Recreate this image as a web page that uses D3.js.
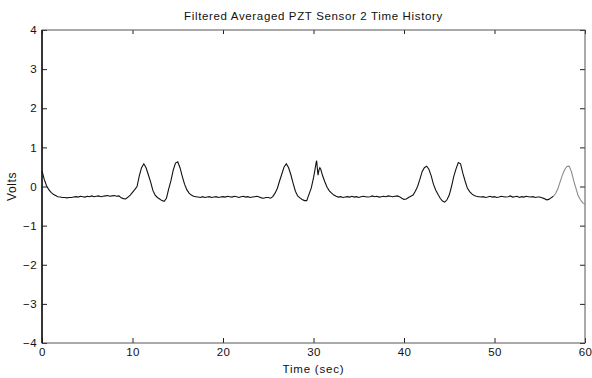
<!DOCTYPE html>
<html>
<head>
<meta charset="utf-8">
<script src="https://cdn.jsdelivr.net/npm/d3@7"></script>
<style>
  body { margin: 0; background: #fff; }
  text { font-family: "Liberation Sans", Arial, sans-serif; fill: #111; }
</style>
</head>
<body>
<div id="chart"></div>
<script>
// values (seconds, volts)
const timeSec = [
  0, 0.25, 0.5, 0.75, 1, 1.25, 1.5, 1.75, 2, 2.25, 2.5, 2.75, 3, 3.25, 3.5, 3.75, 4, 4.25, 4.5, 4.75,
  5, 5.25, 5.5, 5.75, 6, 6.25, 6.5, 6.75, 7, 7.25, 7.5, 7.75, 8, 8.25, 8.5, 8.75, 9, 9.25, 9.5, 9.75,
  10, 10.25, 10.5, 10.75, 11, 11.25, 11.5, 11.75, 12, 12.25, 12.5, 12.75, 13, 13.25, 13.5, 13.75, 14, 14.25, 14.5, 14.75,
  15, 15.25, 15.5, 15.75, 16, 16.25, 16.5, 16.75, 17, 17.25, 17.5, 17.75, 18, 18.25, 18.5, 18.75, 19, 19.25, 19.5, 19.75,
  20, 20.25, 20.5, 20.75, 21, 21.25, 21.5, 21.75, 22, 22.25, 22.5, 22.75, 23, 23.25, 23.5, 23.75, 24, 24.25, 24.5, 24.75,
  25, 25.25, 25.5, 25.75, 26, 26.25, 26.5, 26.75, 27, 27.25, 27.5, 27.75, 28, 28.25, 28.5, 28.75, 29, 29.25, 29.5, 29.75,
  30, 30.1, 30.2, 30.3, 30.35, 30.45, 30.5, 30.6, 30.7, 30.8, 30.9,
  31, 31.25, 31.5, 31.75, 32, 32.25, 32.5, 32.75,
  33, 33.25, 33.5, 33.75, 34, 34.25, 34.5, 34.75, 35, 35.25, 35.5, 35.75, 36, 36.25, 36.5, 36.75,
  37, 37.25, 37.5, 37.75, 38, 38.25, 38.5, 38.75, 39, 39.25, 39.5, 39.75,
  40, 40.25, 40.5, 40.75, 41, 41.25, 41.5, 41.75, 42, 42.25, 42.5, 42.75, 43, 43.25, 43.5, 43.75, 44, 44.25, 44.5, 44.75,
  45, 45.25, 45.5, 45.75, 46, 46.25, 46.5, 46.75, 47, 47.25, 47.5, 47.75, 48, 48.25, 48.5, 48.75, 49, 49.25, 49.5, 49.75,
  50, 50.25, 50.5, 50.75, 51, 51.25, 51.5, 51.75, 52, 52.25, 52.5, 52.75, 53, 53.25, 53.5, 53.75, 54, 54.25, 54.5, 54.75,
  55, 55.25, 55.5, 55.75, 56, 56.25, 56.5, 56.75, 57, 57.25, 57.5, 57.75, 58, 58.25, 58.5, 58.75, 59, 59.25, 59.5, 59.75, 60
];
const volts = [
  0.40, 0.18, 0.02, -0.08, -0.15, -0.20, -0.23, -0.26, -0.27, -0.28, -0.28, -0.29, -0.28, -0.28, -0.27, -0.26, -0.27, -0.25, -0.26, -0.27,
  -0.25, -0.26, -0.24, -0.26, -0.25, -0.24, -0.26, -0.25, -0.24, -0.23, -0.25, -0.24, -0.23, -0.25, -0.24, -0.29, -0.31, -0.32, -0.27, -0.22,
  -0.15, -0.08, 0.00, 0.27, 0.48, 0.58, 0.48, 0.30, 0.12, -0.10, -0.22, -0.28, -0.32, -0.36, -0.38, -0.30, -0.06, 0.15, 0.42, 0.60,
  0.63, 0.48, 0.26, 0.06, -0.08, -0.17, -0.22, -0.25, -0.26, -0.27, -0.28, -0.26, -0.28, -0.27, -0.26, -0.28, -0.27, -0.26, -0.28, -0.27,
  -0.26, -0.27, -0.25, -0.26, -0.27, -0.25, -0.26, -0.28, -0.26, -0.25, -0.27, -0.26, -0.28, -0.27, -0.26, -0.25, -0.27, -0.29, -0.30, -0.28,
  -0.28, -0.30, -0.26, -0.17, -0.05, 0.14, 0.32, 0.50, 0.58, 0.48, 0.30, 0.08, -0.12, -0.24, -0.29, -0.33, -0.36, -0.36, -0.20, -0.04,
  0.22, 0.35, 0.48, 0.62, 0.66, 0.40, 0.29, 0.42, 0.48, 0.44, 0.36,
  0.28, 0.12, -0.02, -0.11, -0.17, -0.22, -0.25, -0.27,
  -0.26, -0.28, -0.27, -0.26, -0.27, -0.25, -0.27, -0.26, -0.28, -0.26, -0.25, -0.26, -0.27, -0.26, -0.24, -0.26,
  -0.25, -0.27, -0.26, -0.25, -0.26, -0.24, -0.25, -0.26, -0.25, -0.24, -0.26, -0.30,
  -0.33, -0.32, -0.28, -0.25, -0.22, -0.12, 0.00, 0.18, 0.38, 0.48, 0.52, 0.44, 0.28, 0.06, -0.09, -0.20, -0.30, -0.37, -0.40, -0.34,
  -0.22, 0.00, 0.26, 0.45, 0.61, 0.58, 0.34, 0.14, -0.04, -0.13, -0.19, -0.23, -0.25, -0.26, -0.27, -0.26, -0.28, -0.27, -0.25, -0.27,
  -0.26, -0.28, -0.27, -0.25, -0.26, -0.27, -0.26, -0.24, -0.27, -0.26, -0.25, -0.28, -0.26, -0.27, -0.25, -0.26, -0.27, -0.26, -0.28, -0.27,
  -0.27, -0.29, -0.31, -0.34, -0.33, -0.29, -0.25, -0.18, -0.06, 0.12, 0.29, 0.43, 0.51, 0.52, 0.38, 0.15, -0.05, -0.24, -0.34, -0.42, -0.45
];
const xTicks = [0, 10, 20, 30, 40, 50, 60];
const yTicks = [-4, -3, -2, -1, 0, 1, 2, 3, 4];
const fadeFrom = 56.5; // last peak is printed lighter in the scan

const margin = { top: 30, right: 7, bottom: 35, left: 42 };
const width = 592 - margin.left - margin.right;
const height = 378 - margin.top - margin.bottom;

const svg = d3.select('#chart')
  .append('svg')
  .attr('width', 592)
  .attr('height', 378);

const g = svg.append('g')
  .attr('transform', `translate(${margin.left},${margin.top})`);

const x = d3.scaleLinear().domain([0, 60]).range([0, width]);
const y = d3.scaleLinear().domain([-4, 4]).range([height, 0]);

const points = timeSec.map((t, i) => ({ t, v: volts[i] }));

// ticks point inward on all four sides, like the matlab box
const styleAxis = sel => {
  sel.select('.domain').remove();
  sel.selectAll('line').attr('stroke', '#222');
  sel.selectAll('text').style('font-size', '11.5px').style('letter-spacing', '0.4px');
};

g.append('g')
  .attr('transform', `translate(0,${height})`)
  .call(d3.axisBottom(x).tickValues(xTicks).tickSizeInner(-5).tickSizeOuter(0).tickPadding(5))
  .call(styleAxis);

g.append('g')
  .call(d3.axisTop(x).tickValues(xTicks).tickSizeInner(-4).tickSizeOuter(0).tickFormat(''))
  .call(styleAxis);

g.append('g')
  .call(d3.axisLeft(y).tickValues(yTicks).tickSizeInner(-5).tickSizeOuter(0).tickPadding(5))
  .call(styleAxis);

g.append('g')
  .attr('transform', `translate(${width},0)`)
  .call(d3.axisRight(y).tickValues(yTicks).tickSizeInner(-5).tickSizeOuter(0).tickFormat(''))
  .call(styleAxis);

// frame
g.append('rect')
  .attr('width', width)
  .attr('height', height)
  .attr('fill', 'none')
  .attr('stroke', '#555')
  .attr('stroke-width', 1);

g.append('line')
  .attr('x1', 0).attr('x2', 0)
  .attr('y1', 0).attr('y2', height)
  .attr('stroke', '#111')
  .attr('stroke-width', 1.5);

const line = d3.line()
  .x(d => x(d.t))
  .y(d => y(d.v));

g.append('path')
  .datum(points.filter(d => d.t <= fadeFrom))
  .attr('fill', 'none')
  .attr('stroke', '#111')
  .attr('stroke-width', 1.1)
  .attr('d', line);

g.append('path')
  .datum(points.filter(d => d.t >= fadeFrom))
  .attr('fill', 'none')
  .attr('stroke', '#8a8a8a')
  .attr('stroke-width', 1.1)
  .attr('d', line);

// title and axis labels
g.append('text')
  .attr('x', width / 2)
  .attr('y', -10)
  .attr('text-anchor', 'middle')
  .style('font-size', '11.5px')
  .style('letter-spacing', '0.65px')
  .text('Filtered Averaged PZT Sensor 2 Time History');

g.append('text')
  .attr('x', width / 2)
  .attr('y', height + 30)
  .attr('text-anchor', 'middle')
  .style('font-size', '11.5px')
  .style('letter-spacing', '0.8px')
  .text('Time (sec)');

g.append('text')
  .attr('transform', `translate(-26,${height / 2}) rotate(-90)`)
  .attr('text-anchor', 'middle')
  .style('font-size', '12px')
  .style('letter-spacing', '0.6px')
  .text('Volts');
</script>
</body>
</html>
